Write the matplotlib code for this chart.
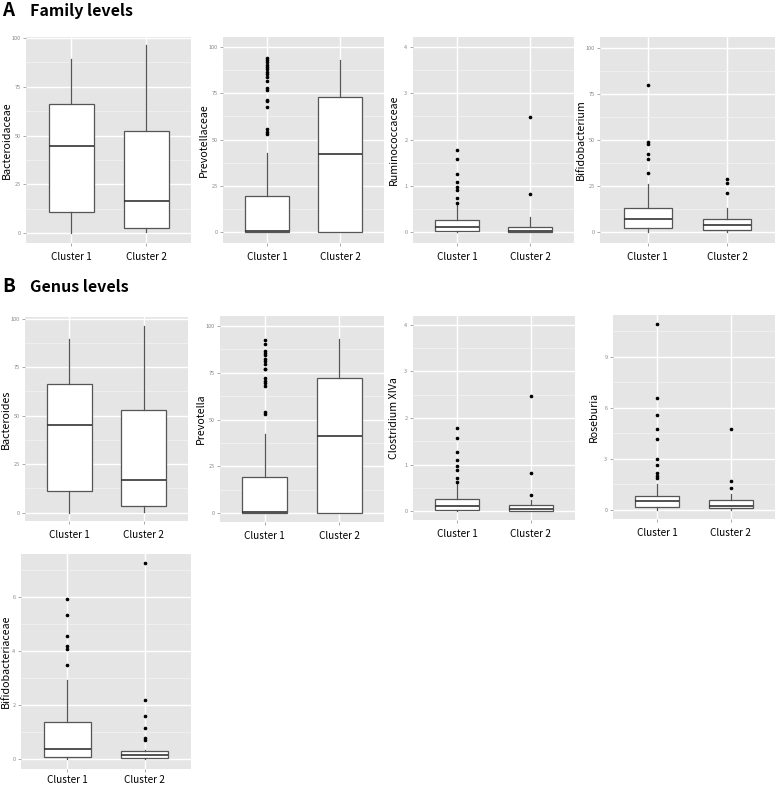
import numpy as np
import matplotlib.pyplot as plt

plt.rcParams['font.family'] = ['Noto Sans CJK KR', 'DejaVu Sans']

clusters = ['Cluster 1', 'Cluster 2']

# five numbers per cluster: lower whisker, Q1, median, Q3, upper whisker
bacteroidaceae = [[0, 10.8, 44.8, 66.0, 89.4], [0.5, 2.7, 16.6, 52.5, 96.4]]
bacteroidaceae_out = [[], []]

prevotellaceae = [[0, 0.2, 0.5, 19.5, 42.5], [0, 0, 42.2, 72.8, 93.0]]
prevotellaceae_out = [[94.2, 93.0, 91.7, 90.4, 89.4, 87.9, 86.3, 85.2, 84.0, 81.8,
                       77.7, 76.9, 71.4, 70.8, 67.7, 55.5, 54.2, 52.8], []]

ruminococcaceae = [[0, 0.03, 0.11, 0.26, 0.6], [0, 0.0, 0.03, 0.12, 0.32]]
ruminococcaceae_out = [[1.78, 1.57, 1.26, 1.09, 0.98, 0.91, 0.73, 0.64], [2.48, 0.82]]

bifidobacterium = [[0, 2.2, 7.4, 13.4, 26.0], [0, 1.2, 4.0, 7.4, 13.0]]
bifidobacterium_out = [[80.0, 49.2, 47.8, 42.5, 39.7, 32.0], [28.8, 26.8, 21.4]]

bacteroides = [[0, 11.0, 45.2, 66.5, 89.7], [0.3, 3.2, 16.8, 52.7, 96.4]]
bacteroides_out = [[], []]

prevotella = [[0, 0.1, 0.3, 19.3, 42.5], [0, 0, 41.2, 72.5, 92.9]]
prevotella_out = [[92.5, 90.2, 86.6, 85.7, 84.5, 82.2, 81.4, 79.6, 77.3, 76.8,
                   72.0, 70.7, 69.5, 67.9, 54.1, 53.2], []]

clostridium = [[0, 0.02, 0.11, 0.26, 0.6], [0, 0.0, 0.04, 0.14, 0.24]]
clostridium_out = [[1.78, 1.56, 1.26, 1.1, 0.97, 0.89, 0.72, 0.62], [2.47, 0.82, 0.34]]

roseburia = [[0, 0.16, 0.51, 0.78, 1.51], [0, 0.1, 0.23, 0.55, 0.94]]
roseburia_out = [[10.9, 6.55, 5.56, 4.75, 4.15, 2.99, 2.64, 2.15, 1.95, 1.86],
                 [4.74, 1.7, 1.25]]

bifidobacteriaceae = [[0, 0.06, 0.36, 1.39, 2.93], [0, 0.05, 0.15, 0.31, 0.35]]
bifidobacteriaceae_out = [[5.95, 5.35, 4.56, 4.2, 4.06, 3.5],
                          [7.25, 2.19, 1.58, 1.16, 0.78, 0.7]]

W, H = 778, 787
fig = plt.figure(figsize=(W / 100, H / 100), dpi=100)


def panel(x0, y0, x1, y1):
    ax = fig.add_axes([x0 / W, 1 - y1 / H, (x1 - x0) / W, (y1 - y0) / H])
    ax.width_px = x1 - x0
    return ax


def draw(ax, box, out, label, ylim, yticks, lab_off=19, xpad=4.5):
    stats = []
    for b, o in zip(box, out):
        stats.append(dict(whislo=b[0], q1=b[1], med=b[2], q3=b[3], whishi=b[4], fliers=o))
    ax.set_facecolor('#E5E5E5')
    ax.set_axisbelow(True)
    ax.bxp(stats, positions=[1, 2], widths=0.6, showcaps=False, patch_artist=True,
           boxprops=dict(facecolor='white', edgecolor='#555555', linewidth=0.9),
           whiskerprops=dict(color='#555555', linewidth=0.9),
           medianprops=dict(color='#333333', linewidth=1.2),
           flierprops=dict(marker='o', markersize=1.6, markerfacecolor='black',
                           markeredgecolor='black', linestyle='none'))
    ax.set_xlim(0.4, 2.6)
    ax.set_ylim(ylim)
    ax.set_yticks(yticks)
    ax.set_yticklabels([str(t) for t in yticks])
    step = yticks[1] - yticks[0]
    minor = [(a + b) / 2 for a, b in zip(yticks[:-1], yticks[1:])]
    if yticks[-1] + step / 2 < ylim[1]:
        minor.append(yticks[-1] + step / 2)
    ax.set_yticks(minor, minor=True)
    ax.set_xticks([1, 2])
    ax.set_xticklabels(clusters, fontsize=7.2, color='black')
    ax.grid(True, which='major', color='white', linewidth=1.0)
    ax.grid(True, which='minor', axis='y', color='#F2F2F2', linewidth=0.6)
    ax.tick_params(axis='y', which='major', labelsize=4, labelcolor='#888888',
                   color='#888888', length=2, width=0.5, pad=2)
    ax.tick_params(axis='x', which='major', color='#888888', length=2, width=0.5, pad=xpad)
    ax.tick_params(which='minor', length=0)
    ax.set_ylabel(label, fontsize=7.7, va='center')
    ax.yaxis.set_label_coords(-lab_off / ax.width_px, 0.5)
    for s in ax.spines.values():
        s.set_visible(False)


pct = [0, 25, 50, 75, 100]
one = [0, 1, 2, 3, 4]

draw(panel(26, 37, 191, 243), bacteroidaceae, bacteroidaceae_out,
     'Bacteroidaceae', (-5.1, 100.5), pct)
draw(panel(223, 37, 384, 243), prevotellaceae, prevotellaceae_out,
     'Prevotellaceae', (-5.9, 105.4), pct)
draw(panel(413, 37, 574, 243), ruminococcaceae, ruminococcaceae_out,
     'Ruminococcaceae', (-0.23, 4.21), one)
draw(panel(600, 37, 775, 243), bifidobacterium, bifidobacterium_out,
     'Bifidobacterium', (-5.8, 106), pct)

draw(panel(25, 317, 188, 521), bacteroides, bacteroides_out,
     'Bacteroides', (-4.3, 100.8), pct)
draw(panel(220, 316, 384, 522), prevotella, prevotella_out,
     'Prevotella', (-4.8, 105.4), pct)
draw(panel(413, 316, 575, 520), clostridium, clostridium_out,
     'Clostridium XIVa', (-0.19, 4.19), one)
draw(panel(613, 315, 775, 519), roseburia, roseburia_out,
     'Roseburia', (-0.55, 11.44), [0, 3, 6, 9])

draw(panel(21, 554, 191, 769), bifidobacteriaceae, bifidobacteriaceae_out,
     'Bifidobacteriaceae', (-0.37, 7.6), [0, 2, 4, 6], lab_off=15, xpad=2.5)

fig.text(2 / W, 1 - 11 / H, 'A', fontsize=13.5, fontweight='bold', va='center')
fig.text(30 / W, 1 - 11 / H, 'Family levels', fontsize=11.5, fontweight='bold', va='center')
fig.text(2 / W, 1 - 287 / H, 'B', fontsize=13.5, fontweight='bold', va='center')
fig.text(30 / W, 1 - 287 / H, 'Genus levels', fontsize=11.5, fontweight='bold', va='center')

fig.savefig('out.png', dpi=100)
